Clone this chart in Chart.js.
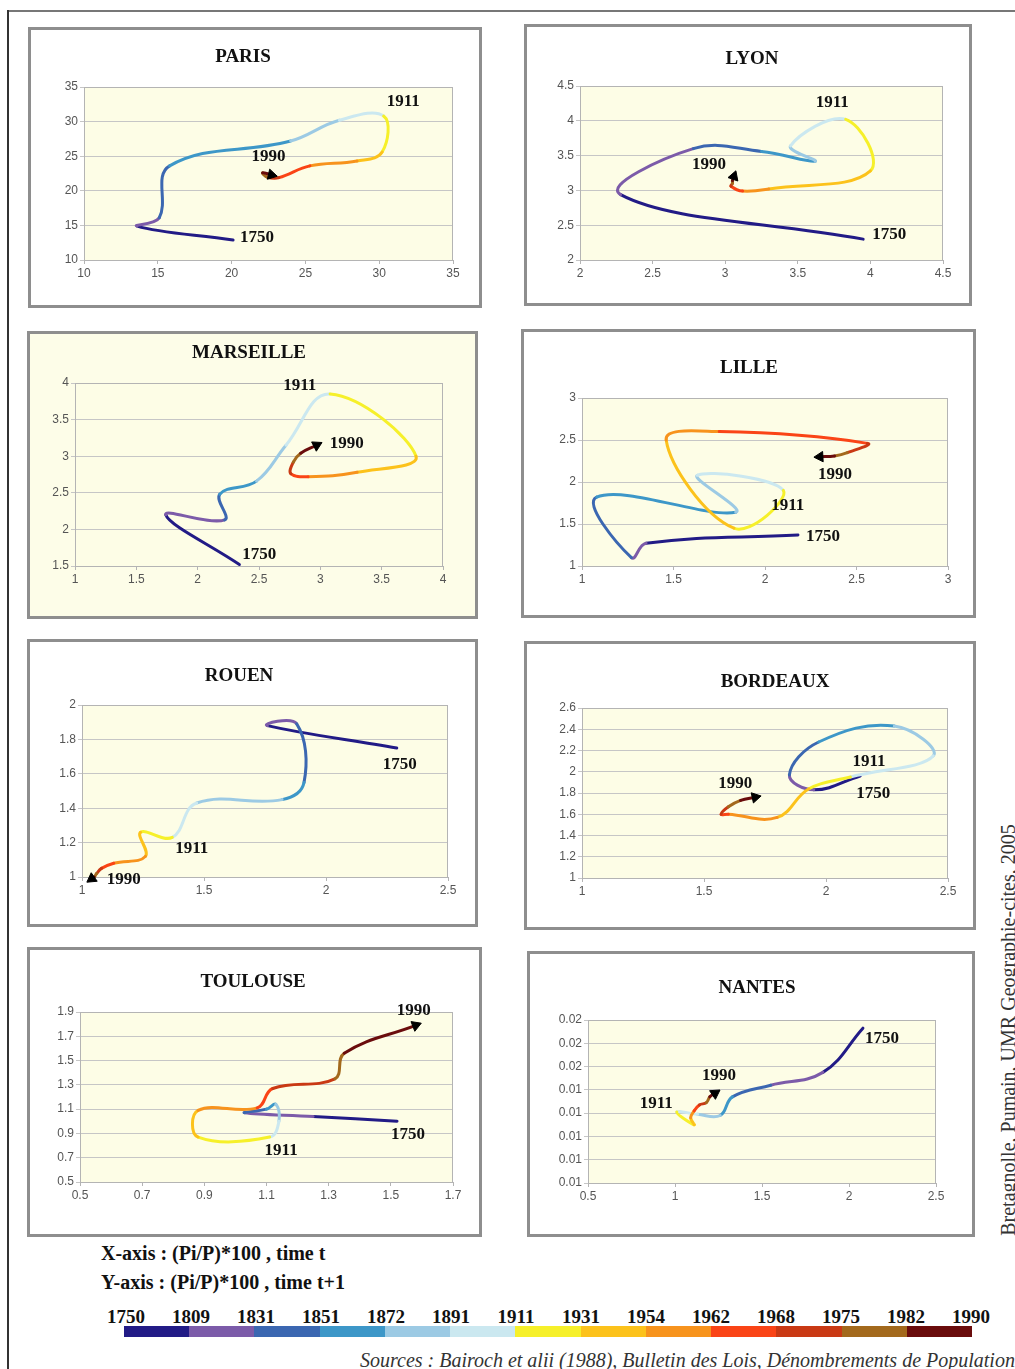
<!DOCTYPE html>
<html>
<head>
<meta charset="utf-8">
<script src="https://cdn.jsdelivr.net/npm/chart.js@4.4.1/dist/chart.umd.min.js"></script>
<style>
  body { margin: 0; width: 1015px; height: 1369px; position: relative; background: #fff; overflow: hidden; font-family: 'Liberation Serif', serif; }
  .line-top { position: absolute; left: 8px; top: 10px; width: 1007px; height: 2px; background: #777; }
  .line-left { position: absolute; left: 7px; top: 10px; width: 2px; height: 1359px; background: #333; }
  .panel { position: absolute; box-sizing: border-box; border: 3px solid #8e8e8e; background: #fff; }
  .panel canvas { position: absolute; left: 0; top: 0; }
  .title { position: absolute; transform: translate(-50%, -50%); font: bold 19px 'Liberation Serif', serif; color: #111; white-space: nowrap; }
  .axis-note { position: absolute; left: 101px; font: bold 20px 'Liberation Serif', serif; color: #111; transform: translateY(-50%); white-space: nowrap; }
  .year { position: absolute; top: 1317px; transform: translate(-50%, -50%); font: bold 19px 'Liberation Serif', serif; color: #111; }
  .bar { position: absolute; top: 1326px; height: 11px; }
  .sources { position: absolute; left: 360px; top: 1360px; transform: translateY(-50%); font: italic 20px 'Liberation Serif', serif; color: #333; white-space: nowrap; }
  .credit { position: absolute; left: 1008px; top: 1030px; transform: translate(-50%, -50%) rotate(-90deg); font: 20px 'Liberation Serif', serif; color: #333; white-space: nowrap; }
</style>
</head>
<body>
<div class="line-top"></div>
<div class="line-left"></div>
<div id="root"></div>

<script>
// census years and the colour of each period between two of them
const years = ['1750', '1809', '1831', '1851', '1872', '1891', '1911', '1931', '1954', '1962', '1968', '1975', '1982', '1990'];
const periodColors = ['#221b86', '#7c5ba9', '#3b67b1', '#3d97c8', '#9ccae4', '#cbe8f0', '#f6f02a', '#fcc21b', '#f7931d', '#fa4416', '#c93914', '#a3691c', '#6a0c0c'];

// share of the city, (Pi/P)*100, time t (x) and time t+1 (y), one value per census year
const parisX = [20.1, 13.6, 15.1, 15.8, 24.0, 27.3, 30.3, 30.2, 28.5, 25.3, 23.2, 22.4, 22.1, 22.7];
const parisY = [12.9, 14.9, 16.1, 23.6, 27.2, 30.2, 30.8, 25.6, 24.3, 23.6, 21.9, 22.0, 22.6, 22.3];

const lyonX = [3.95, 2.28, 2.78, 3.25, 3.62, 3.45, 3.83, 4.0, 3.3, 3.12, 3.04, 3.05, 3.05, 3.06];
const lyonY = [2.30, 2.94, 3.60, 3.56, 3.42, 3.64, 4.02, 3.28, 3.02, 2.99, 3.06, 3.10, 3.14, 3.20];

const marseilleX = [2.34, 1.74, 2.22, 2.18, 2.48, 2.72, 3.08, 3.78, 3.3, 2.9, 2.76, 2.78, 2.84, 2.97];
const marseilleY = [1.52, 2.20, 2.13, 2.48, 2.66, 3.15, 3.85, 3.0, 2.78, 2.72, 2.76, 2.92, 3.04, 3.15];

const lilleX = [2.18, 1.35, 1.27, 1.08, 1.84, 1.63, 2.10, 1.83, 1.46, 1.75, 2.56, 2.45, 2.38, 2.30];
const lilleY = [1.37, 1.27, 1.10, 1.82, 1.64, 2.08, 1.90, 1.45, 2.50, 2.60, 2.46, 2.35, 2.31, 2.30];

const rouenX = [2.29, 1.76, 1.88, 1.91, 1.82, 1.47, 1.37, 1.24, 1.26, 1.13, 1.08, 1.06, 1.05, 1.04];
const rouenY = [1.75, 1.88, 1.89, 1.55, 1.45, 1.43, 1.23, 1.26, 1.12, 1.08, 1.05, 1.02, 1.00, 0.99];

const bordeauxX = [2.14, 1.95, 1.85, 1.97, 2.28, 2.44, 2.10, 1.93, 1.80, 1.60, 1.57, 1.60, 1.65, 1.71];
const bordeauxY = [1.96, 1.83, 1.97, 2.28, 2.43, 2.15, 1.95, 1.84, 1.57, 1.60, 1.60, 1.67, 1.73, 1.76];

const toulouseX = [1.52, 1.25, 1.03, 1.10, 1.13, 1.14, 1.11, 0.88, 0.88, 1.07, 1.12, 1.32, 1.35, 1.58];
const toulouseY = [1.00, 1.04, 1.07, 1.10, 1.14, 1.00, 0.87, 0.87, 1.09, 1.11, 1.27, 1.35, 1.56, 1.79];

const nantesX = [2.08, 1.85, 1.55, 1.33, 1.26, 1.13, 1.01, 1.11, 1.09, 1.11, 1.14, 1.18, 1.20, 1.23];
const nantesY = [0.0183, 0.0145, 0.0134, 0.0124, 0.0108, 0.0109, 0.0111, 0.0100, 0.0106, 0.0112, 0.0117, 0.0119, 0.0124, 0.0127];

// axis ranges: [min, max, step]
const parisXRange = [10, 35, 5], parisYRange = [10, 35, 5];
const lyonXRange = [2, 4.5, 0.5], lyonYRange = [2, 4.5, 0.5];
const marseilleXRange = [1, 4, 0.5], marseilleYRange = [1.5, 4, 0.5];
const lilleXRange = [1, 3, 0.5], lilleYRange = [1, 3, 0.5];
const rouenXRange = [1, 2.5, 0.5], rouenYRange = [1, 2, 0.2];
const bordeauxXRange = [1, 2.5, 0.5], bordeauxYRange = [1, 2.6, 0.2];
const toulouseXRange = [0.5, 1.7, 0.2], toulouseYRange = [0.5, 1.9, 0.2];
const nantesXRange = [0.5, 2.5, 0.5], nantesYRange = [0.005, 0.019, 0.002];

// which years get a label on each chart
const labelYears = [6, 13, 0];

const plainNum = v => String(+v.toFixed(4));

// page layout of the panels (frame, plot area, title centre, label offsets)
const panels = [
  { name: 'PARIS', xs: parisX, ys: parisY, xr: parisXRange, yr: parisYRange,
    frame: [28, 27, 454, 281], plot: [84, 87, 453, 260], title: [243, 56],
    offsets: [[3, -14], [-20, -18], [7, -2]] },
  { name: 'LYON', xs: lyonX, ys: lyonY, xr: lyonXRange, yr: lyonYRange,
    frame: [524, 24, 448, 282], plot: [580, 86, 943, 260], title: [752, 58],
    offsets: [[-30, -17], [-42, -12], [9, -5]] },
  { name: 'MARSEILLE', xs: marseilleX, ys: marseilleY, xr: marseilleXRange, yr: marseilleYRange,
    frame: [27, 331, 451, 288], plot: [75, 383, 443, 566], title: [249, 352], bg: '#fdfde8',
    offsets: [[-47, -8], [13, -2], [3, -10]] },
  { name: 'LILLE', xs: lilleX, ys: lilleY, xr: lilleXRange, yr: lilleYRange,
    frame: [521, 329, 455, 289], plot: [582, 398, 948, 566], title: [749, 367],
    offsets: [[-12, 15], [-2, 18], [8, 2]] },
  { name: 'ROUEN', xs: rouenX, ys: rouenY, xr: rouenXRange, yr: rouenYRange,
    frame: [27, 639, 451, 288], plot: [82, 705, 448, 877], title: [239, 675],
    offsets: [[3, 11], [15, 1], [-14, 17]] },
  { name: 'BORDEAUX', xs: bordeauxX, ys: bordeauxY, xr: bordeauxXRange, yr: bordeauxYRange,
    frame: [524, 641, 452, 289], plot: [582, 708, 948, 878], title: [775, 681],
    offsets: [[2, -15], [-37, -14], [-4, 18]] },
  { name: 'TOULOUSE', xs: toulouseX, ys: toulouseY, xr: toulouseXRange, yr: toulouseYRange,
    frame: [27, 947, 455, 290], plot: [80, 1012, 453, 1182], title: [253, 981],
    offsets: [[-5, 14], [-19, -15], [-6, 13]] },
  { name: 'NANTES', xs: nantesX, ys: nantesY, xr: nantesXRange, yr: nantesYRange,
    frame: [527, 951, 448, 286], plot: [588, 1020, 936, 1183], title: [757, 987],
    yFormat: v => (Math.round(v * 100 + 1e-9) / 100).toFixed(2),
    offsets: [[-37, -8], [-13, -18], [2, 10]] }
];

// cream plot background, plot border and year labels
const plotFrame = {
  id: 'plotFrame',
  beforeDraw(chart) {
    const { ctx, chartArea: a } = chart;
    ctx.save();
    ctx.fillStyle = '#fdfde6';
    ctx.fillRect(a.left, a.top, a.right - a.left, a.bottom - a.top);
    ctx.restore();
  },
  beforeDatasetsDraw(chart) {
    const { ctx, chartArea: a } = chart;
    ctx.save();
    ctx.strokeStyle = '#b4b4b4';
    ctx.lineWidth = 1;
    ctx.strokeRect(a.left + 0.5, a.top + 0.5, a.right - a.left - 1, a.bottom - a.top);
    ctx.restore();
  },
  afterDatasetsDraw(chart, args, opts) {
    const { ctx } = chart;
    const pts = chart.data.datasets[0].data;
    ctx.save();
    ctx.font = "bold 17px 'Liberation Serif', serif";
    ctx.fillStyle = '#111';
    ctx.textAlign = 'left';
    ctx.textBaseline = 'middle';
    labelYears.forEach((idx, k) => {
      const px = chart.scales.x.getPixelForValue(pts[idx].x);
      const py = chart.scales.y.getPixelForValue(pts[idx].y);
      const off = opts.offsets[k];
      ctx.fillText(years[idx], px + off[0], py + off[1]);
    });
    ctx.restore();
  }
};

const root = document.getElementById('root');

panels.forEach(p => {
  const [fx, fy, fw, fh] = p.frame;
  const [pl, pt, pr, pb] = p.plot;
  const box = document.createElement('div');
  box.className = 'panel';
  box.style.left = fx + 'px';
  box.style.top = fy + 'px';
  box.style.width = fw + 'px';
  box.style.height = fh + 'px';
  if (p.bg) box.style.background = p.bg;
  root.appendChild(box);

  const cx = fx + 3, cy = fy + 3, cw = fw - 6, chh = fh - 6;
  const canvas = document.createElement('canvas');
  canvas.width = cw;
  canvas.height = chh;
  box.appendChild(canvas);

  const title = document.createElement('div');
  title.className = 'title';
  title.textContent = p.name;
  title.style.left = p.title[0] + 'px';
  title.style.top = p.title[1] + 'px';
  root.appendChild(title);

  const yWidth = pl - cx;
  const xHeight = cy + chh - pb;
  const last = p.xs.length - 1;

  new Chart(canvas, {
    type: 'scatter',
    data: {
      datasets: [{
        data: p.xs.map((x, i) => ({ x: x, y: p.ys[i] })),
        showLine: true,
        tension: 0.4,
        borderWidth: 3,
        borderCapStyle: 'round',
        borderJoinStyle: 'round',
        clip: false,
        segment: { borderColor: ctx => periodColors[ctx.p0DataIndex] },
        pointStyle: 'triangle',
        pointRadius: ctx => ctx.dataIndex === last ? 6 : 0,
        pointBackgroundColor: '#000',
        pointBorderColor: '#000',
        pointBorderWidth: 1,
        pointRotation: ctx => {
          const d = ctx.dataset.data;
          const xs = ctx.chart.scales.x, ys = ctx.chart.scales.y;
          if (!xs || !ys) return 0;
          const dx = xs.getPixelForValue(d[last].x) - xs.getPixelForValue(d[last - 1].x);
          const dy = ys.getPixelForValue(d[last].y) - ys.getPixelForValue(d[last - 1].y);
          return Math.atan2(dx, -dy) * 180 / Math.PI;
        }
      }]
    },
    options: {
      responsive: false,
      animation: false,
      events: [],
      layout: { padding: { left: 0, top: pt - cy, right: cx + cw - pr, bottom: 0 } },
      plugins: {
        legend: { display: false },
        tooltip: { enabled: false },
        plotFrame: { offsets: p.offsets }
      },
      scales: {
        x: {
          type: 'linear',
          min: p.xr[0], max: p.xr[1],
          afterFit: s => { s.height = xHeight; },
          ticks: {
            stepSize: p.xr[2], color: '#555', padding: 2,
            font: { family: "'Liberation Sans', sans-serif", size: 12 },
            callback: v => plainNum(v)
          },
          grid: { drawOnChartArea: false, color: '#b4b4b4', tickLength: 4 },
          border: { color: '#b4b4b4' }
        },
        y: {
          type: 'linear',
          min: p.yr[0], max: p.yr[1],
          afterFit: s => { s.width = yWidth; },
          ticks: {
            stepSize: p.yr[2], color: '#555', padding: 2,
            font: { family: "'Liberation Sans', sans-serif", size: 12 },
            callback: p.yFormat ? (v => p.yFormat(v)) : (v => plainNum(v))
          },
          grid: { color: '#c6c6c6', tickLength: 4 },
          border: { color: '#b4b4b4' }
        }
      }
    },
    plugins: [plotFrame]
  });
});

// axis notes
[['X-axis : (Pi/P)*100 , time t', 1253], ['Y-axis : (Pi/P)*100 , time t+1', 1282]].forEach(([txt, y]) => {
  const d = document.createElement('div');
  d.className = 'axis-note';
  d.style.top = y + 'px';
  d.textContent = txt;
  root.appendChild(d);
});

// colour key of the periods
const barLeft = 124, barRight = 972;
const segW = (barRight - barLeft) / periodColors.length;
periodColors.forEach((c, i) => {
  const b = document.createElement('div');
  b.className = 'bar';
  b.style.left = (barLeft + i * segW) + 'px';
  b.style.width = (segW + 0.5) + 'px';
  b.style.background = c;
  root.appendChild(b);
});
const labelStep = 845 / (years.length - 1);
years.forEach((yr, i) => {
  const d = document.createElement('div');
  d.className = 'year';
  d.style.left = (126 + i * labelStep) + 'px';
  d.textContent = yr;
  root.appendChild(d);
});

const src = document.createElement('div');
src.className = 'sources';
src.textContent = 'Sources : Bairoch et alii (1988), Bulletin des Lois, Dénombrements de Population';
root.appendChild(src);

const credit = document.createElement('div');
credit.className = 'credit';
credit.textContent = 'Bretagnolle, Pumain, UMR Geographie-cites, 2005';
root.appendChild(credit);
</script>
</body>
</html>
